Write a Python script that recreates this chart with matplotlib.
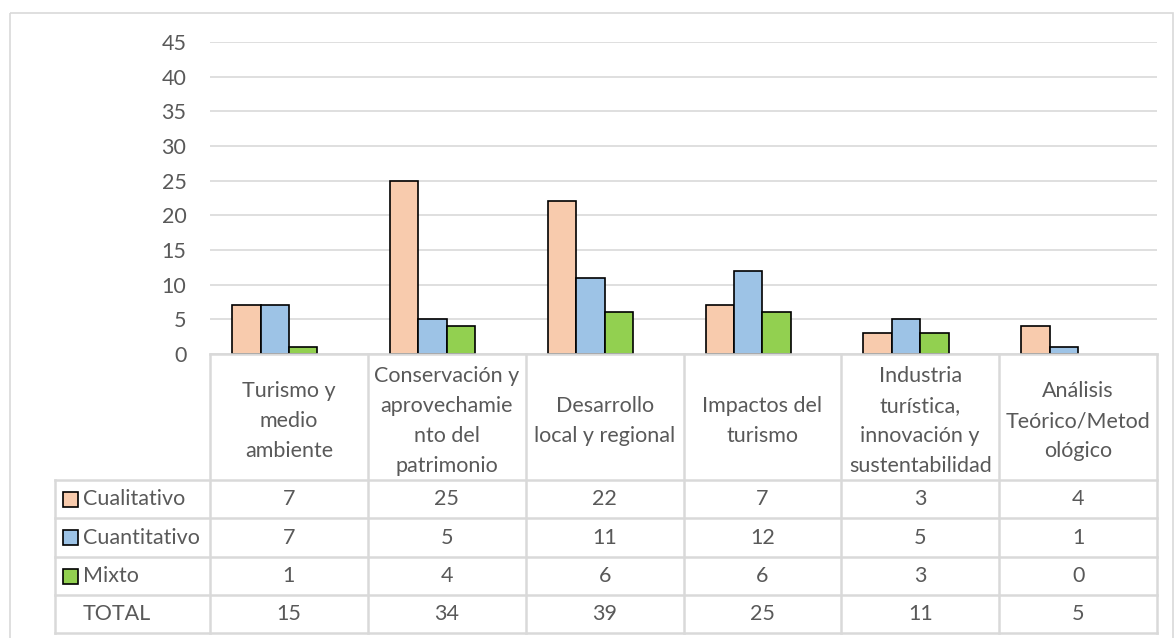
import numpy as np
import matplotlib.pyplot as plt
from matplotlib.patches import Rectangle

categorias = ["Turismo y\nmedio\nambiente",
              "Conservación y\naprovechamie\nnto del\npatrimonio",
              "Desarrollo\nlocal y regional",
              "Impactos del\nturismo",
              "Industria\nturística,\ninnovación y\nsustentabilidad",
              "Análisis\nTeórico/Metod\nológico"]
series = ["Cualitativo", "Cuantitativo", "Mixto"]
cualitativo = [7, 25, 22, 7, 3, 4]
cuantitativo = [7, 5, 11, 12, 5, 1]
mixto = [1, 4, 6, 6, 3, 0]
total = [15, 34, 39, 25, 11, 5]
colores = ["#F8CBAD", "#9DC3E6", "#92D050"]

W, H = 1174, 638
texto = "#595959"
gris = "#D9D9D9"
fuente = "Lato"
fs = 15.5

fig = plt.figure(figsize=(W / 100, H / 100), dpi=100)

# plot area in pixels (top-down)
x0, x1, ytop, ybot = 210, 1157, 42, 354
ax = fig.add_axes([x0 / W, 1 - ybot / H, (x1 - x0) / W, (ybot - ytop) / H])

n = len(categorias)
ind = np.arange(n)
width = 0.18
valores = [cualitativo, cuantitativo, mixto]
for k, (vals, c) in enumerate(zip(valores, colores)):
    # 4 slots (TOTAL series is invisible in the original)
    lws = [1.2 if v > 0 else 0 for v in vals]
    ax.bar(ind + (k - 1.5) * width, vals, width, color=c, edgecolor="black",
           linewidth=lws, zorder=3)

ax.set_xlim(-0.5, n - 0.5)
ax.set_ylim(0, 45)
ax.set_yticks(range(0, 46, 5))
ax.set_xticks([])
ax.grid(axis="y", color=gris, linewidth=1.2, zorder=0)
for s in ax.spines.values():
    s.set_visible(False)
ax.tick_params(axis="y", length=0, pad=17, labelcolor=texto, labelsize=fs)
for lb in ax.get_yticklabels():
    lb.set_fontfamily(fuente)

# overlay in pixel coords for the data table
ov = fig.add_axes([0, 0, 1, 1], zorder=5)
ov.set_xlim(0, W)
ov.set_ylim(H, 0)
ov.axis("off")
ov.patch.set_alpha(0)

ov.add_patch(Rectangle((10, 13), 1163, 640, fill=False, edgecolor=gris, lw=1.2))

colw = (x1 - x0) / n
left = 55
rows = [480, 518, 557, 595, 633]
lw = 1.8
ov.plot([x0, x1], [ybot, ybot], color=gris, lw=lw)
for y in rows:
    ov.plot([left, x1], [y, y], color=gris, lw=lw)
ov.plot([left, left], [rows[0], rows[-1]], color=gris, lw=lw)
for i in range(n + 1):
    xx = x0 + i * colw
    ov.plot([xx, xx], [ybot, rows[-1]], color=gris, lw=lw)

for i, cat in enumerate(categorias):
    cx = x0 + (i + 0.5) * colw
    ov.text(cx, (ybot + rows[0]) / 2 + 4, cat, ha="center", va="center",
            color=texto, fontsize=fs, family=fuente, linespacing=1.62)

etiquetas = series + ["TOTAL"]
datos = valores + [total]
for r, (lab, vals) in enumerate(zip(etiquetas, datos)):
    cy = (rows[r] + rows[r + 1]) / 2
    if r < 3:
        ov.add_patch(Rectangle((63, cy - 7.5), 15, 15, facecolor=colores[r],
                               edgecolor="black", lw=1.2))
    ov.text(83, cy, lab, ha="left", va="center", color=texto, fontsize=fs,
            family=fuente)
    for i, v in enumerate(vals):
        ov.text(x0 + (i + 0.5) * colw, cy, str(v), ha="center", va="center",
                color=texto, fontsize=fs, family=fuente)

fig.savefig("out.png", dpi=100)
